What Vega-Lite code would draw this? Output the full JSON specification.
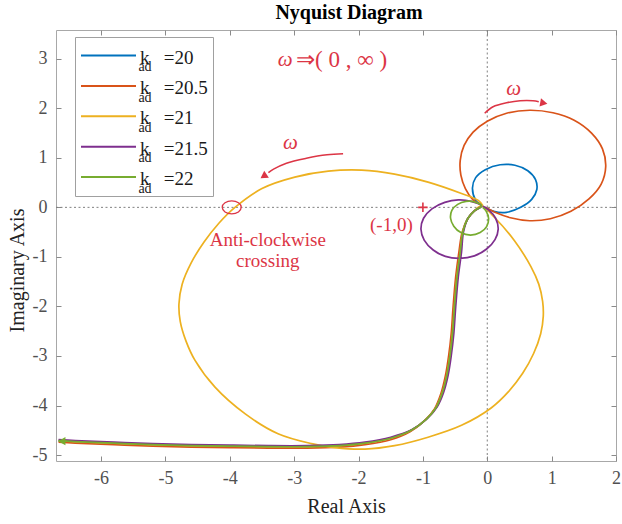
{
 "$schema": "https://vega.github.io/schema/vega-lite/v6.json",
 "width": 560,
 "height": 431,
 "autosize": {"type": "none"},
 "padding": {"left": 56, "top": 30, "right": 6, "bottom": 63},
 "background": "white",
 "title": {"text": "Nyquist Diagram", "font": "Liberation Serif", "fontSize": 20, "fontWeight": "bold", "color": "black", "offset": 7, "anchor": "middle", "dx": 13},
 "config": {
  "view": {"stroke": "#a8a8a8", "strokeWidth": 1},
  "axis": {"domain": false, "grid": false, "tickSize": -5, "tickColor": "#8a8a8a", "labelFont": "Liberation Serif", "labelFontSize": 18, "labelColor": "#505050", "titleFont": "Liberation Serif", "titleFontSize": 20, "titleFontWeight": "normal", "titleColor": "#222222", "labelFlush": false, "labelOverlap": false},
  "style": {"guide-label": {"lineHeight": 8}},
  "text": {"font": "Liberation Serif"}
 },
 "datasets": {
  "curves": [
   {"k":"20","o":1,"x":-6.66,"y":-4.71},{"k":"20","o":2,"x":-6.4,"y":-4.73},{"k":"20","o":3,"x":-5.8,"y":-4.76},{"k":"20","o":4,"x":-5.2,"y":-4.79},{"k":"20","o":5,"x":-4.6,"y":-4.81},{"k":"20","o":6,"x":-4.0,"y":-4.82},{"k":"20","o":7,"x":-3.4,"y":-4.83},{"k":"20","o":8,"x":-2.8,"y":-4.83},{"k":"20","o":9,"x":-2.3,"y":-4.81},{"k":"20","o":10,"x":-1.9,"y":-4.76},{"k":"20","o":11,"x":-1.5,"y":-4.66},{"k":"20","o":12,"x":-1.18,"y":-4.5},{"k":"20","o":13,"x":-0.95,"y":-4.28},{"k":"20","o":14,"x":-0.8,"y":-4.05},{"k":"20","o":15,"x":-0.7,"y":-3.75},{"k":"20","o":16,"x":-0.63,"y":-3.4},{"k":"20","o":17,"x":-0.58,"y":-3.0},{"k":"20","o":18,"x":-0.54,"y":-2.55},{"k":"20","o":19,"x":-0.51,"y":-2.0},{"k":"20","o":20,"x":-0.47,"y":-1.4},{"k":"20","o":21,"x":-0.42,"y":-0.9},{"k":"20","o":22,"x":-0.38,"y":-0.5},{"k":"20","o":23,"x":-0.3,"y":-0.22},{"k":"20","o":24,"x":-0.2,"y":-0.07},{"k":"20","o":25,"x":-0.09,"y":0.03},
   {"k":"20","o":26,"x":-0.18,"y":0.14},{"k":"20","o":27,"x":-0.23,"y":0.39},{"k":"20","o":28,"x":-0.18,"y":0.6},{"k":"20","o":29,"x":-0.03,"y":0.76},{"k":"20","o":30,"x":0.2,"y":0.86},{"k":"20","o":31,"x":0.43,"y":0.85},{"k":"20","o":32,"x":0.63,"y":0.74},{"k":"20","o":33,"x":0.75,"y":0.56},{"k":"20","o":34,"x":0.77,"y":0.36},{"k":"20","o":35,"x":0.69,"y":0.16},{"k":"20","o":36,"x":0.52,"y":0.0},{"k":"20","o":37,"x":0.3,"y":-0.1},{"k":"20","o":38,"x":0.1,"y":-0.08},{"k":"20","o":39,"x":-0.03,"y":0.0},
   {"k":"20.5","o":1,"x":-6.66,"y":-4.74},{"k":"20.5","o":2,"x":-6.4,"y":-4.76},{"k":"20.5","o":3,"x":-5.8,"y":-4.79},{"k":"20.5","o":4,"x":-5.2,"y":-4.82},{"k":"20.5","o":5,"x":-4.6,"y":-4.84},{"k":"20.5","o":6,"x":-4.0,"y":-4.85},{"k":"20.5","o":7,"x":-3.4,"y":-4.86},{"k":"20.5","o":8,"x":-2.8,"y":-4.86},{"k":"20.5","o":9,"x":-2.3,"y":-4.84},{"k":"20.5","o":10,"x":-1.9,"y":-4.79},{"k":"20.5","o":11,"x":-1.5,"y":-4.69},{"k":"20.5","o":12,"x":-1.2,"y":-4.53},{"k":"20.5","o":13,"x":-0.97,"y":-4.3},{"k":"20.5","o":14,"x":-0.82,"y":-4.07},{"k":"20.5","o":15,"x":-0.72,"y":-3.76},{"k":"20.5","o":16,"x":-0.65,"y":-3.4},{"k":"20.5","o":17,"x":-0.6,"y":-3.0},{"k":"20.5","o":18,"x":-0.56,"y":-2.55},{"k":"20.5","o":19,"x":-0.53,"y":-2.0},{"k":"20.5","o":20,"x":-0.49,"y":-1.4},{"k":"20.5","o":21,"x":-0.44,"y":-0.9},{"k":"20.5","o":22,"x":-0.39,"y":-0.5},{"k":"20.5","o":23,"x":-0.3,"y":-0.22},{"k":"20.5","o":24,"x":-0.2,"y":-0.07},{"k":"20.5","o":25,"x":-0.09,"y":0.03},
   {"k":"20.5","o":26,"x":-0.22,"y":0.15},{"k":"20.5","o":27,"x":-0.34,"y":0.38},{"k":"20.5","o":28,"x":-0.41,"y":0.65},{"k":"20.5","o":29,"x":-0.42,"y":0.95},{"k":"20.5","o":30,"x":-0.36,"y":1.25},{"k":"20.5","o":31,"x":-0.22,"y":1.52},{"k":"20.5","o":32,"x":0.0,"y":1.74},{"k":"20.5","o":33,"x":0.3,"y":1.9},{"k":"20.5","o":34,"x":0.66,"y":1.96},{"k":"20.5","o":35,"x":1.02,"y":1.91},{"k":"20.5","o":36,"x":1.35,"y":1.76},{"k":"20.5","o":37,"x":1.62,"y":1.5},{"k":"20.5","o":38,"x":1.79,"y":1.18},{"k":"20.5","o":39,"x":1.84,"y":0.82},{"k":"20.5","o":40,"x":1.77,"y":0.47},{"k":"20.5","o":41,"x":1.58,"y":0.17},{"k":"20.5","o":42,"x":1.3,"y":-0.08},{"k":"20.5","o":43,"x":0.98,"y":-0.23},{"k":"20.5","o":44,"x":0.66,"y":-0.27},{"k":"20.5","o":45,"x":0.36,"y":-0.21},{"k":"20.5","o":46,"x":0.12,"y":-0.1},{"k":"20.5","o":47,"x":-0.03,"y":0.0},
   {"k":"21","o":1,"x":-6.66,"y":-4.71},{"k":"21","o":2,"x":-6.4,"y":-4.73},{"k":"21","o":3,"x":-5.8,"y":-4.76},{"k":"21","o":4,"x":-5.2,"y":-4.79},{"k":"21","o":5,"x":-4.6,"y":-4.81},{"k":"21","o":6,"x":-4.0,"y":-4.82},{"k":"21","o":7,"x":-3.4,"y":-4.83},{"k":"21","o":8,"x":-2.8,"y":-4.83},{"k":"21","o":9,"x":-2.3,"y":-4.81},{"k":"21","o":10,"x":-1.9,"y":-4.76},{"k":"21","o":11,"x":-1.5,"y":-4.66},{"k":"21","o":12,"x":-1.18,"y":-4.5},{"k":"21","o":13,"x":-0.95,"y":-4.28},{"k":"21","o":14,"x":-0.8,"y":-4.05},{"k":"21","o":15,"x":-0.7,"y":-3.75},{"k":"21","o":16,"x":-0.63,"y":-3.4},{"k":"21","o":17,"x":-0.58,"y":-3.0},{"k":"21","o":18,"x":-0.54,"y":-2.55},{"k":"21","o":19,"x":-0.51,"y":-2.0},{"k":"21","o":20,"x":-0.47,"y":-1.4},{"k":"21","o":21,"x":-0.42,"y":-0.9},{"k":"21","o":22,"x":-0.38,"y":-0.5},{"k":"21","o":23,"x":-0.3,"y":-0.22},{"k":"21","o":24,"x":-0.2,"y":-0.07},{"k":"21","o":25,"x":-0.09,"y":0.03},
   {"k":"21","o":26,"x":0.11,"y":-0.2},{"k":"21","o":27,"x":0.42,"y":-0.67},{"k":"21","o":28,"x":0.68,"y":-1.2},{"k":"21","o":29,"x":0.8,"y":-1.55},{"k":"21","o":30,"x":0.86,"y":-1.9},{"k":"21","o":31,"x":0.87,"y":-2.2},{"k":"21","o":32,"x":0.83,"y":-2.55},{"k":"21","o":33,"x":0.72,"y":-2.95},{"k":"21","o":34,"x":0.55,"y":-3.35},{"k":"21","o":35,"x":0.33,"y":-3.72},{"k":"21","o":36,"x":0.06,"y":-4.05},{"k":"21","o":37,"x":-0.4,"y":-4.4},{"k":"21","o":38,"x":-0.92,"y":-4.64},{"k":"21","o":39,"x":-1.44,"y":-4.81},{"k":"21","o":40,"x":-1.9,"y":-4.88},{"k":"21","o":41,"x":-2.37,"y":-4.85},{"k":"21","o":42,"x":-2.73,"y":-4.77},{"k":"21","o":43,"x":-3.25,"y":-4.57},{"k":"21","o":44,"x":-3.76,"y":-4.17},{"k":"21","o":45,"x":-4.23,"y":-3.63},{"k":"21","o":46,"x":-4.54,"y":-3.09},{"k":"21","o":47,"x":-4.68,"y":-2.7},{"k":"21","o":48,"x":-4.77,"y":-2.3},{"k":"21","o":49,"x":-4.79,"y":-1.95},{"k":"21","o":50,"x":-4.74,"y":-1.55},{"k":"21","o":51,"x":-4.6,"y":-1.12},{"k":"21","o":52,"x":-4.4,"y":-0.7},{"k":"21","o":53,"x":-4.17,"y":-0.32},{"k":"21","o":54,"x":-3.92,"y":0.0},{"k":"21","o":55,"x":-3.5,"y":0.38},{"k":"21","o":56,"x":-2.99,"y":0.61},{"k":"21","o":57,"x":-2.47,"y":0.73},{"k":"21","o":58,"x":-1.95,"y":0.75},{"k":"21","o":59,"x":-1.44,"y":0.67},{"k":"21","o":60,"x":-0.92,"y":0.51},{"k":"21","o":61,"x":-0.4,"y":0.28},{"k":"21","o":62,"x":-0.14,"y":0.14},{"k":"21","o":63,"x":-0.07,"y":0.04},
   {"k":"21.5","o":1,"x":-6.66,"y":-4.69},{"k":"21.5","o":2,"x":-6.4,"y":-4.71},{"k":"21.5","o":3,"x":-5.8,"y":-4.74},{"k":"21.5","o":4,"x":-5.2,"y":-4.77},{"k":"21.5","o":5,"x":-4.6,"y":-4.79},{"k":"21.5","o":6,"x":-4.0,"y":-4.8},{"k":"21.5","o":7,"x":-3.4,"y":-4.81},{"k":"21.5","o":8,"x":-2.8,"y":-4.81},{"k":"21.5","o":9,"x":-2.3,"y":-4.79},{"k":"21.5","o":10,"x":-1.9,"y":-4.74},{"k":"21.5","o":11,"x":-1.5,"y":-4.64},{"k":"21.5","o":12,"x":-1.16,"y":-4.48},{"k":"21.5","o":13,"x":-0.93,"y":-4.26},{"k":"21.5","o":14,"x":-0.78,"y":-4.03},{"k":"21.5","o":15,"x":-0.68,"y":-3.74},{"k":"21.5","o":16,"x":-0.61,"y":-3.4},{"k":"21.5","o":17,"x":-0.56,"y":-3.0},{"k":"21.5","o":18,"x":-0.52,"y":-2.55},{"k":"21.5","o":19,"x":-0.49,"y":-2.0},{"k":"21.5","o":20,"x":-0.45,"y":-1.4},{"k":"21.5","o":21,"x":-0.4,"y":-0.9},{"k":"21.5","o":22,"x":-0.37,"y":-0.5},{"k":"21.5","o":23,"x":-0.3,"y":-0.22},{"k":"21.5","o":24,"x":-0.2,"y":-0.07},{"k":"21.5","o":25,"x":-0.09,"y":0.03},
   {"k":"21.5","o":26,"x":-0.25,"y":0.12},{"k":"21.5","o":27,"x":-0.45,"y":0.15},{"k":"21.5","o":28,"x":-0.66,"y":0.1},{"k":"21.5","o":29,"x":-0.86,"y":-0.03},{"k":"21.5","o":30,"x":-0.99,"y":-0.22},{"k":"21.5","o":31,"x":-1.03,"y":-0.44},{"k":"21.5","o":32,"x":-0.98,"y":-0.66},{"k":"21.5","o":33,"x":-0.84,"y":-0.86},{"k":"21.5","o":34,"x":-0.65,"y":-0.99},{"k":"21.5","o":35,"x":-0.43,"y":-1.03},{"k":"21.5","o":36,"x":-0.2,"y":-0.98},{"k":"21.5","o":37,"x":-0.01,"y":-0.84},{"k":"21.5","o":38,"x":0.12,"y":-0.65},{"k":"21.5","o":39,"x":0.17,"y":-0.44},{"k":"21.5","o":40,"x":0.13,"y":-0.22},{"k":"21.5","o":41,"x":0.02,"y":-0.05},{"k":"21.5","o":42,"x":-0.07,"y":0.02},
   {"k":"22","o":1,"x":-6.66,"y":-4.71},{"k":"22","o":2,"x":-6.4,"y":-4.73},{"k":"22","o":3,"x":-5.8,"y":-4.76},{"k":"22","o":4,"x":-5.2,"y":-4.79},{"k":"22","o":5,"x":-4.6,"y":-4.81},{"k":"22","o":6,"x":-4.0,"y":-4.82},{"k":"22","o":7,"x":-3.4,"y":-4.83},{"k":"22","o":8,"x":-2.8,"y":-4.83},{"k":"22","o":9,"x":-2.3,"y":-4.81},{"k":"22","o":10,"x":-1.9,"y":-4.76},{"k":"22","o":11,"x":-1.5,"y":-4.66},{"k":"22","o":12,"x":-1.18,"y":-4.5},{"k":"22","o":13,"x":-0.95,"y":-4.28},{"k":"22","o":14,"x":-0.8,"y":-4.05},{"k":"22","o":15,"x":-0.7,"y":-3.75},{"k":"22","o":16,"x":-0.63,"y":-3.4},{"k":"22","o":17,"x":-0.58,"y":-3.0},{"k":"22","o":18,"x":-0.54,"y":-2.55},{"k":"22","o":19,"x":-0.51,"y":-2.0},{"k":"22","o":20,"x":-0.47,"y":-1.4},{"k":"22","o":21,"x":-0.42,"y":-0.9},{"k":"22","o":22,"x":-0.38,"y":-0.5},{"k":"22","o":23,"x":-0.3,"y":-0.22},{"k":"22","o":24,"x":-0.2,"y":-0.07},{"k":"22","o":25,"x":-0.09,"y":0.03},
   {"k":"22","o":26,"x":-0.2,"y":0.11},{"k":"22","o":27,"x":-0.33,"y":0.12},{"k":"22","o":28,"x":-0.46,"y":0.06},{"k":"22","o":29,"x":-0.55,"y":-0.06},{"k":"22","o":30,"x":-0.57,"y":-0.22},{"k":"22","o":31,"x":-0.52,"y":-0.38},{"k":"22","o":32,"x":-0.41,"y":-0.51},{"k":"22","o":33,"x":-0.26,"y":-0.56},{"k":"22","o":34,"x":-0.11,"y":-0.51},{"k":"22","o":35,"x":-0.01,"y":-0.39},{"k":"22","o":36,"x":0.02,"y":-0.22},{"k":"22","o":37,"x":-0.02,"y":-0.07},{"k":"22","o":38,"x":-0.07,"y":0.0}
  ],
  "arrows": [
   {"a":"r","o":1,"x":-0.04,"y":1.9},{"a":"r","o":2,"x":0.09,"y":2.03},{"a":"r","o":3,"x":0.3,"y":2.11},{"a":"r","o":4,"x":0.51,"y":2.15},{"a":"r","o":5,"x":0.71,"y":2.15},{"a":"r","o":6,"x":0.8,"y":2.13},
   {"a":"l","o":1,"x":-2.24,"y":1.08},{"a":"l","o":2,"x":-2.49,"y":1.06},{"a":"l","o":3,"x":-2.81,"y":0.99},{"a":"l","o":4,"x":-3.12,"y":0.89},{"a":"l","o":5,"x":-3.32,"y":0.77},{"a":"l","o":6,"x":-3.4,"y":0.7}
  ],
  "subscripts": [
   {"x": -5.42, "y": 2.745, "t": "ad"}, {"x": -5.42, "y": 2.133, "t": "ad"}, {"x": -5.42, "y": 1.522, "t": "ad"}, {"x": -5.42, "y": 0.91, "t": "ad"}, {"x": -5.42, "y": 0.298, "t": "ad"}
  ]
 },
 "resolve": {"axis": {"x": "independent", "y": "independent"}},
 "layer": [
  {
   "data": {"values": [{"v": 0}]},
   "mark": {"type": "rule", "color": "#808080", "strokeDash": [2, 2.5], "strokeWidth": 1},
   "encoding": {"x": {"field": "v", "type": "quantitative", "scale": {"domain": [-6.7, 2], "nice": false, "zero": false}, "axis": null}}
  },
  {
   "data": {"values": [{"v": 0}]},
   "mark": {"type": "rule", "color": "#808080", "strokeDash": [2, 2.5], "strokeWidth": 1},
   "encoding": {"y": {"field": "v", "type": "quantitative", "scale": {"domain": [-5.12, 3.58], "nice": false, "zero": false}, "axis": null}}
  },
  {
   "data": {"name": "curves"},
   "mark": {"type": "line", "strokeWidth": 1.7, "clip": true, "interpolate": "catmull-rom"},
   "encoding": {
    "x": {"field": "x", "type": "quantitative", "scale": {"domain": [-6.7, 2], "nice": false, "zero": false},
      "axis": {"orient": "bottom", "values": [-6, -5, -4, -3, -2, -1, 0, 1, 2], "labelExpr": "''+datum.value", "labelPadding": 13, "title": "Real Axis", "titleX": 290, "titleY": 51, "titleBaseline": "alphabetic", "titleAlign": "center"}},
    "y": {"field": "y", "type": "quantitative", "scale": {"domain": [-5.12, 3.58], "nice": false, "zero": false},
      "axis": {"orient": "left", "values": [-5, -4, -3, -2, -1, 0, 1, 2, 3], "labelExpr": "''+datum.value", "labelPadding": 14, "title": "Imaginary Axis", "titleX": -33, "titleY": 240, "titleBaseline": "alphabetic", "titleAlign": "center", "titleAngle": 270}},
    "color": {"field": "k", "type": "nominal",
      "scale": {"domain": ["20", "20.5", "21", "21.5", "22"], "range": ["#0072BD", "#D95319", "#EDB120", "#7E2F8E", "#77AC30"]},
      "legend": {"orient": "none", "legendX": 19, "legendY": 7, "title": null, "symbolType": "stroke", "symbolSize": 3025, "symbolStrokeWidth": 2, "labelFont": "Liberation Serif", "labelFontSize": 19, "labelColor": "#1a1a1a", "labelBaseline": "alphabetic", "labelExpr": "['', 'k\u00a0\u00a0\u00a0=' + datum.label]", "strokeColor": "#a0a0a0", "fillColor": "transparent", "padding": 5, "labelOffset": 3, "clipHeight": 27, "rowPadding": 1.4}},
    "order": {"field": "o", "type": "quantitative"}
   }
  },
  {
   "data": {"values": [{"x": -6.61, "y": -4.72}]},
   "mark": {"type": "point", "shape": "triangle-left", "filled": true, "size": 70, "color": "#77AC30", "opacity": 1},
   "encoding": {
    "x": {"field": "x", "type": "quantitative", "scale": {"domain": [-6.7, 2], "nice": false, "zero": false}, "axis": null},
    "y": {"field": "y", "type": "quantitative", "scale": {"domain": [-5.12, 3.58], "nice": false, "zero": false}, "axis": null}
   }
  },
  {
   "data": {"name": "arrows"},
   "mark": {"type": "line", "color": "#dc3545", "strokeWidth": 1.5, "interpolate": "catmull-rom"},
   "encoding": {
    "x": {"field": "x", "type": "quantitative", "scale": {"domain": [-6.7, 2], "nice": false, "zero": false}, "axis": null},
    "y": {"field": "y", "type": "quantitative", "scale": {"domain": [-5.12, 3.58], "nice": false, "zero": false}, "axis": null},
    "detail": {"field": "a", "type": "nominal"},
    "order": {"field": "o", "type": "quantitative"}
   }
  },
  {
   "data": {"values": [{"x": 0.86, "y": 2.11}]},
   "mark": {"type": "point", "shape": "triangle", "filled": true, "size": 70, "angle": 100, "color": "#dc3545", "opacity": 1},
   "encoding": {
    "x": {"field": "x", "type": "quantitative", "scale": {"domain": [-6.7, 2], "nice": false, "zero": false}, "axis": null},
    "y": {"field": "y", "type": "quantitative", "scale": {"domain": [-5.12, 3.58], "nice": false, "zero": false}, "axis": null}
   }
  },
  {
   "data": {"values": [{"x": -3.46, "y": 0.64}]},
   "mark": {"type": "point", "shape": "triangle", "filled": true, "size": 70, "angle": 236, "color": "#dc3545", "opacity": 1},
   "encoding": {
    "x": {"field": "x", "type": "quantitative", "scale": {"domain": [-6.7, 2], "nice": false, "zero": false}, "axis": null},
    "y": {"field": "y", "type": "quantitative", "scale": {"domain": [-5.12, 3.58], "nice": false, "zero": false}, "axis": null}
   }
  },
  {
   "data": {"values": [{"x": -1, "y": 0}]},
   "mark": {"type": "point", "shape": "M-1,0H1M0,-1V1", "size": 90, "strokeWidth": 1.6, "color": "#dc3545", "opacity": 1},
   "encoding": {
    "x": {"field": "x", "type": "quantitative", "scale": {"domain": [-6.7, 2], "nice": false, "zero": false},
      "axis": {"orient": "top", "values": [-6, -5, -4, -3, -2, -1, 0, 1, 2], "labels": false, "title": null}},
    "y": {"field": "y", "type": "quantitative", "scale": {"domain": [-5.12, 3.58], "nice": false, "zero": false},
      "axis": {"orient": "right", "values": [-5, -4, -3, -2, -1, 0, 1, 2, 3], "labels": false, "title": null}}
   }
  },
  {
   "data": {"values": [{"x": -3.97, "y": 0}]},
   "mark": {"type": "point", "shape": "M-1,0A1,0.68 0 1,1 1,0A1,0.68 0 1,1 -1,0Z", "size": 361, "strokeWidth": 1.3, "color": "#dc3545", "filled": false, "opacity": 1},
   "encoding": {
    "x": {"field": "x", "type": "quantitative", "scale": {"domain": [-6.7, 2], "nice": false, "zero": false}, "axis": null},
    "y": {"field": "y", "type": "quantitative", "scale": {"domain": [-5.12, 3.58], "nice": false, "zero": false}, "axis": null}
   }
  },
  {
   "data": {"name": "subscripts"},
   "mark": {"type": "text", "font": "Liberation Serif", "fontSize": 14, "color": "#1a1a1a", "align": "left", "baseline": "alphabetic"},
   "encoding": {
    "x": {"field": "x", "type": "quantitative", "scale": {"domain": [-6.7, 2], "nice": false, "zero": false}, "axis": null},
    "y": {"field": "y", "type": "quantitative", "scale": {"domain": [-5.12, 3.58], "nice": false, "zero": false}, "axis": null},
    "text": {"field": "t"}
   }
  },
  {
   "data": {"values": [{"x": -3.41, "y": -0.79, "t": "Anti-clockwise"}, {"x": -3.41, "y": -1.2, "t": "crossing"}, {"x": -1.49, "y": -0.48, "t": "(-1,0)"}]},
   "mark": {"type": "text", "font": "Liberation Serif", "fontSize": 19, "color": "#dc3545", "align": "center", "baseline": "alphabetic"},
   "encoding": {
    "x": {"field": "x", "type": "quantitative", "scale": {"domain": [-6.7, 2], "nice": false, "zero": false}, "axis": null},
    "y": {"field": "y", "type": "quantitative", "scale": {"domain": [-5.12, 3.58], "nice": false, "zero": false}, "axis": null},
    "text": {"field": "t"}
   }
  },
  {
   "data": {"values": [{"x": -3.14, "y": 2.97, "t": "ω"}, {"x": 0.41, "y": 2.39, "t": "ω"}, {"x": -3.06, "y": 1.3, "t": "ω"}]},
   "mark": {"type": "text", "font": "Liberation Serif", "fontSize": 21, "fontStyle": "italic", "color": "#dc3545", "align": "center", "baseline": "middle"},
   "encoding": {
    "x": {"field": "x", "type": "quantitative", "scale": {"domain": [-6.7, 2], "nice": false, "zero": false}, "axis": null},
    "y": {"field": "y", "type": "quantitative", "scale": {"domain": [-5.12, 3.58], "nice": false, "zero": false}, "axis": null},
    "text": {"field": "t"}
   }
  },
  {
   "data": {"values": [{"x": -2.97, "y": 2.97, "t": "⇒( 0 , ∞ )"}]},
   "mark": {"type": "text", "font": "Liberation Serif", "fontSize": 23, "color": "#dc3545", "align": "left", "baseline": "middle"},
   "encoding": {
    "x": {"field": "x", "type": "quantitative", "scale": {"domain": [-6.7, 2], "nice": false, "zero": false}, "axis": null},
    "y": {"field": "y", "type": "quantitative", "scale": {"domain": [-5.12, 3.58], "nice": false, "zero": false}, "axis": null},
    "text": {"field": "t"}
   }
  }
 ]
}
